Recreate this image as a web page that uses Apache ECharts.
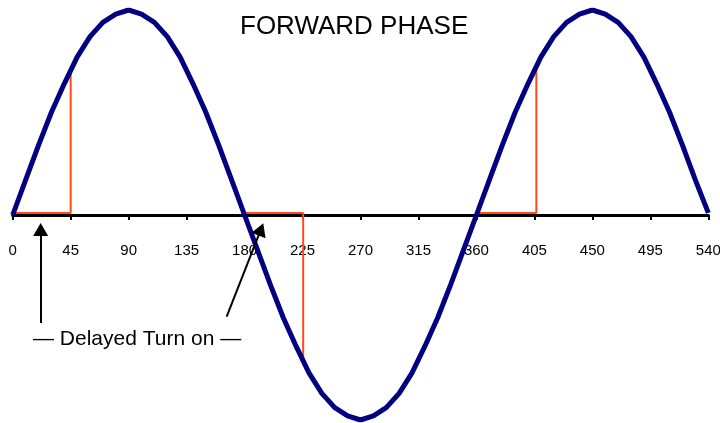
<!DOCTYPE html>
<html>
<head>
<meta charset="utf-8">
<title>Forward Phase</title>
<script src="https://cdn.jsdelivr.net/npm/echarts@6/dist/echarts.min.js"></script>
<style>
  html, body { margin: 0; padding: 0; background: #fff; }
  #chart { width: 720px; height: 423px; }
</style>
</head>
<body>
<div id="chart"></div>
<script>
// mains voltage over 1.5 cycles (degrees, normalised amplitude)
const degrees = [
  0, 10, 20, 30, 40, 50, 60, 70, 80, 90,
  100, 110, 120, 130, 140, 150, 160, 170, 180, 190,
  200, 210, 220, 230, 240, 250, 260, 270, 280, 290,
  300, 310, 320, 330, 340, 350, 360, 370, 380, 390,
  400, 410, 420, 430, 440, 450, 460, 470, 480, 490,
  500, 510, 520, 530, 540
];
const voltage = [
  0, 0.17, 0.34, 0.5, 0.64, 0.77, 0.87, 0.94, 0.98, 1,
  0.98, 0.94, 0.87, 0.77, 0.64, 0.5, 0.34, 0.17, 0, -0.17,
  -0.34, -0.5, -0.64, -0.77, -0.87, -0.94, -0.98, -1, -0.98, -0.94,
  -0.87, -0.77, -0.64, -0.5, -0.34, -0.17, 0, 0.17, 0.34, 0.5,
  0.64, 0.77, 0.87, 0.94, 0.98, 1, 0.98, 0.94, 0.87, 0.77,
  0.64, 0.5, 0.34, 0.17, 0.01
];

// delayed turn-on segments (start, switch point, voltage at switch)
const delayStart = [1.5, 180.5, 361.5];
const delayEnd = [45, 225.5, 406.5];
const switchLevel = [0.7, -0.72, 0.71];
const delayLevel = 0.01;

// annotation arrows [from, to] in data units
const arrowFrom = [[21.7, -0.527], [166.1, -0.496]];
const arrowTo = [[21.7, -0.071], [192.7, -0.07]];

const tickInterval = 45;
const titleText = "FORWARD PHASE";
const noteText = "\u2014 Delayed Turn on \u2014";

const chart = echarts.init(document.getElementById("chart"));

const delaySeries = delayStart.map((s, i) => ({
  type: "line",
  data: [[s, delayLevel], [delayEnd[i], delayLevel], [delayEnd[i], switchLevel[i]]],
  symbol: "none",
  lineStyle: { color: "#ff4a1c", width: 2 },
  z: 3,
  silent: true
}));

const option = {
  animation: false,
  title: {
    text: titleText,
    left: 235,
    top: 9,
    textStyle: { fontFamily: "Arial, 'Liberation Sans'", fontSize: 26, fontWeight: "normal", color: "#000" }
  },
  grid: { left: 12.7, right: 11.7, top: 10, bottom: 3, containLabel: false, outerBoundsMode: "none" },
  xAxis: {
    type: "value",
    min: 0,
    max: 540,
    interval: tickInterval,
    // axis sits at the zero line (grid is 410px tall, zero in the middle)
    offset: -205,
    axisLine: { onZero: false, lineStyle: { color: "#000", width: 3 } },
    axisTick: { show: true, length: 5, lineStyle: { color: "#000", width: 2 } },
    axisLabel: {
      margin: 28,
      color: "#000",
      fontSize: 15,
      fontFamily: "Arial, 'Liberation Sans'",
      showMinLabel: true,
      showMaxLabel: true,
      hideOverlap: false
    },
    splitLine: { show: false }
  },
  yAxis: { type: "value", min: -1, max: 1, show: false },
  graphic: [{
    type: "text",
    left: 33,
    top: 329,
    style: { text: noteText, font: "21px Arial, 'Liberation Sans'", fill: "#000" }
  }],
  series: [
    ...delaySeries,
    {
      type: "line",
      data: degrees.map((d, i) => [d, voltage[i]]),
      symbol: "none",
      lineStyle: { color: "#000080", width: 5 },
      z: 4,
      silent: true
    },
    {
      type: "line",
      data: [],
      markLine: {
        silent: true,
        symbol: ["none", "triangle"],
        symbolSize: [15, 13],
        label: { show: false },
        lineStyle: { color: "#000", width: 2, type: "solid" },
        data: arrowFrom.map((f, i) => [{ coord: f }, { coord: arrowTo[i] }])
      },
      z: 5
    }
  ]
};

chart.setOption(option);
</script>
</body>
</html>
